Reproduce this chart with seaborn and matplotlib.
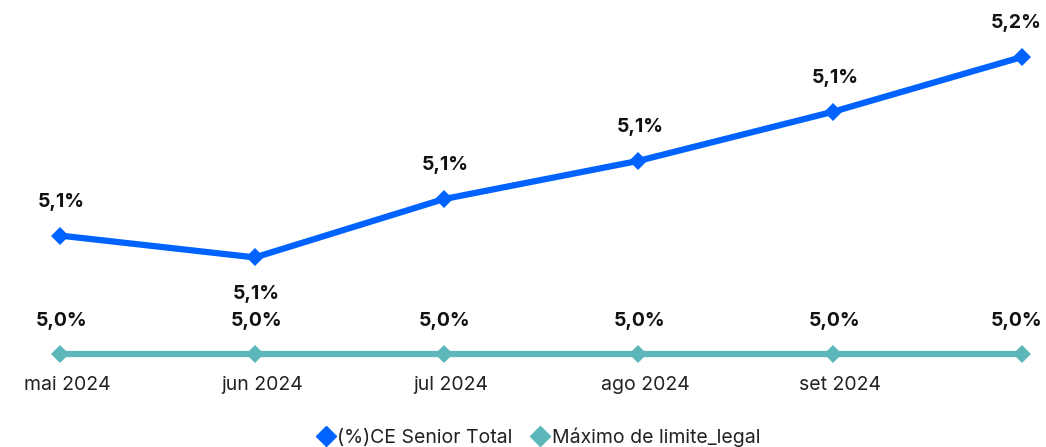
import matplotlib
matplotlib.use("Agg")
import matplotlib.pyplot as plt
import matplotlib.transforms as mtransforms
from matplotlib.lines import Line2D
import seaborn as sns
import pandas as pd

# data
dates = ["2024-05-01", "2024-06-01", "2024-07-01", "2024-08-01", "2024-09-01", "2024-10-01"]
ce_senior = [5.065, 5.053, 5.085, 5.106, 5.133, 5.163]
limite_legal = [5.0, 5.0, 5.0, 5.0, 5.0, 5.0]
tick_dates = ["2024-05-01", "2024-06-01", "2024-07-01", "2024-08-01", "2024-09-01"]
tick_labels = ["mai 2024", "jun 2024", "jul 2024", "ago 2024", "set 2024"]
series_names = ["(%)CE Senior Total", "Máximo de limite_legal"]
colors = ["#0062FF", "#5DB6BA"]

sns.set_theme(style="white")
plt.rcParams['font.family'] = ['Inter', 'DejaVu Sans']

df = pd.DataFrame({
    "date": pd.to_datetime(dates * 2),
    "value": ce_senior + limite_legal,
    "series": [series_names[0]] * len(dates) + [series_names[1]] * len(dates),
})

W, H = 1046, 447
fig = plt.figure(figsize=(W / 100, H / 100), dpi=100)
ax = fig.add_axes([60 / W, 93 / H, 962 / W, 297 / H])

sns.lineplot(data=df, x="date", y="value", hue="series", style="series",
             palette=colors, markers=["D", "D"], dashes=False, linewidth=4.5,
             markersize=9, markeredgewidth=0, ax=ax, legend=False, clip_on=False)

d = pd.to_datetime(dates)
ax.set_xlim(d[0], d[-1])
ax.set_ylim(min(limite_legal), max(ce_senior))

n = len(d)
for i, (x, v) in enumerate(zip(d, ce_senior)):
    off = -26.5 if i == 1 else 24.5
    dx = -4 if i == n - 1 else 1
    ax.annotate(f"{v:.1f}%".replace(".", ","), (x, v), xytext=(dx, off),
                textcoords="offset points", ha="center", va="center",
                fontsize=14, fontweight="bold", color="#111111")
for i, (x, v) in enumerate(zip(d, limite_legal)):
    dx = -4 if i == n - 1 else 1
    ax.annotate(f"{v:.1f}%".replace(".", ","), (x, v), xytext=(dx, 23.5),
                textcoords="offset points", ha="center", va="center",
                fontsize=14, fontweight="bold", color="#111111")

ax.set_xticks(pd.to_datetime(tick_dates))
ax.set_xticklabels(tick_labels, fontsize=14, color="#222222")
ax.set_yticks([])
ax.tick_params(axis="x", length=0, pad=16)
shift = mtransforms.ScaledTranslation(7 / 100, 0, fig.dpi_scale_trans)
for lbl in ax.get_xticklabels():
    lbl.set_transform(lbl.get_transform() + shift)
ax.set_xlabel("")
ax.set_ylabel("")
for s in ax.spines.values():
    s.set_visible(False)

handles = [Line2D([], [], marker="D", color=c, linestyle="none", markersize=10.5) for c in colors]
fig.legend(handles, series_names, loc="center", bbox_to_anchor=(537 / W, 10 / H), ncol=2,
           frameon=False, fontsize=14, handletextpad=0.0, columnspacing=0.8,
           handlelength=1.2, labelcolor="#222222")

fig.savefig("out.png", dpi=100)
